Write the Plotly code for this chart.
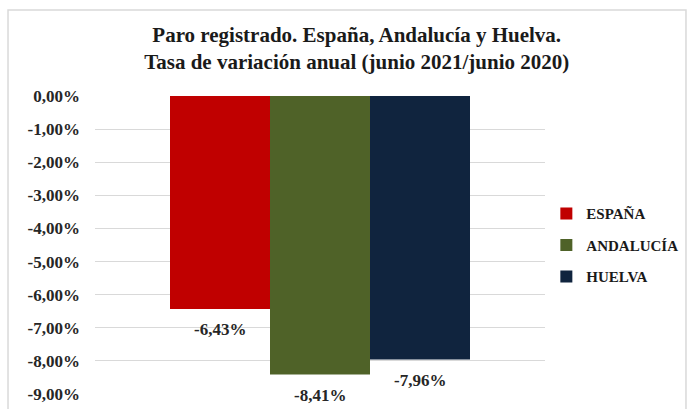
import plotly.graph_objects as go

regions = ["ESPAÑA", "ANDALUCÍA", "HUELVA"]
values = [-6.43, -8.41, -7.96]
colors = ["#C00000", "#4F6228", "#10243E"]
tick_vals = [0, -1, -2, -3, -4, -5, -6, -7, -8, -9]
tick_text = ["0,00%", "-1,00%", "-2,00%", "-3,00%", "-4,00%", "-5,00%",
             "-6,00%", "-7,00%", "-8,00%", "-9,00%"]
title_lines = ["Paro registrado. España, Andalucía y Huelva.",
               "Tasa de variación anual (junio 2021/junio 2020)"]

FONT = "Liberation Serif"

fig = go.Figure()
for i, (r, v, c) in enumerate(zip(regions, values, colors)):
    fig.add_trace(go.Bar(
        x=[i], y=[v], width=1, name=r, marker=dict(color=c, line=dict(width=0)),
        legendgroup=r, showlegend=True, hoverinfo="skip",
    ))
    fig.add_annotation(
        x=i, y=v, text=f"{v:.2f}%".replace(".", ","), showarrow=False,
        yshift=-21, font=dict(family=FONT, size=17, color="#262626", weight="bold"),
        xref="x", yref="y",
    )

fig.update_layout(
    width=690, height=409,
    margin=dict(l=95, r=145, t=96, b=15, autoexpand=False),
    paper_bgcolor="white", plot_bgcolor="white",
    barmode="overlay",
    title=dict(text="<br>".join(title_lines), x=0.517, xanchor="center",
               y=0.898, yanchor="middle",
               font=dict(family=FONT, size=21, color="#1a1a1a", weight="bold")),
    xaxis=dict(range=[-1.25, 3.25], showticklabels=False, showgrid=False,
               zeroline=False, showline=False, fixedrange=True),
    yaxis=dict(range=[-9, 0], tickvals=tick_vals, ticktext=tick_text,
               showgrid=True, gridcolor="#d9d9d9", gridwidth=1,
               zeroline=False, showline=False, ticks="",
               ticklabelstandoff=14,
               tickfont=dict(family=FONT, size=17, color="#262626", weight="bold")),
    legend=dict(x=1.003, xanchor="left", y=0.66, yanchor="top",
                tracegroupgap=9, itemwidth=30, bgcolor="rgba(0,0,0,0)",
                font=dict(family=FONT, size=15, color="#1a1a1a", weight="bold")),
    showlegend=True,
)

fig.add_shape(type="rect", xref="paper", yref="paper",
              x0=-0.1933, x1=1.3133, y0=-0.07, y1=1.2886,
              line=dict(color="#d9d9d9", width=1.5), fillcolor="rgba(0,0,0,0)",
              layer="below")

fig.write_html("out.html", config={"displayModeBar": False},
               post_script="document.body.style.margin='0';")
